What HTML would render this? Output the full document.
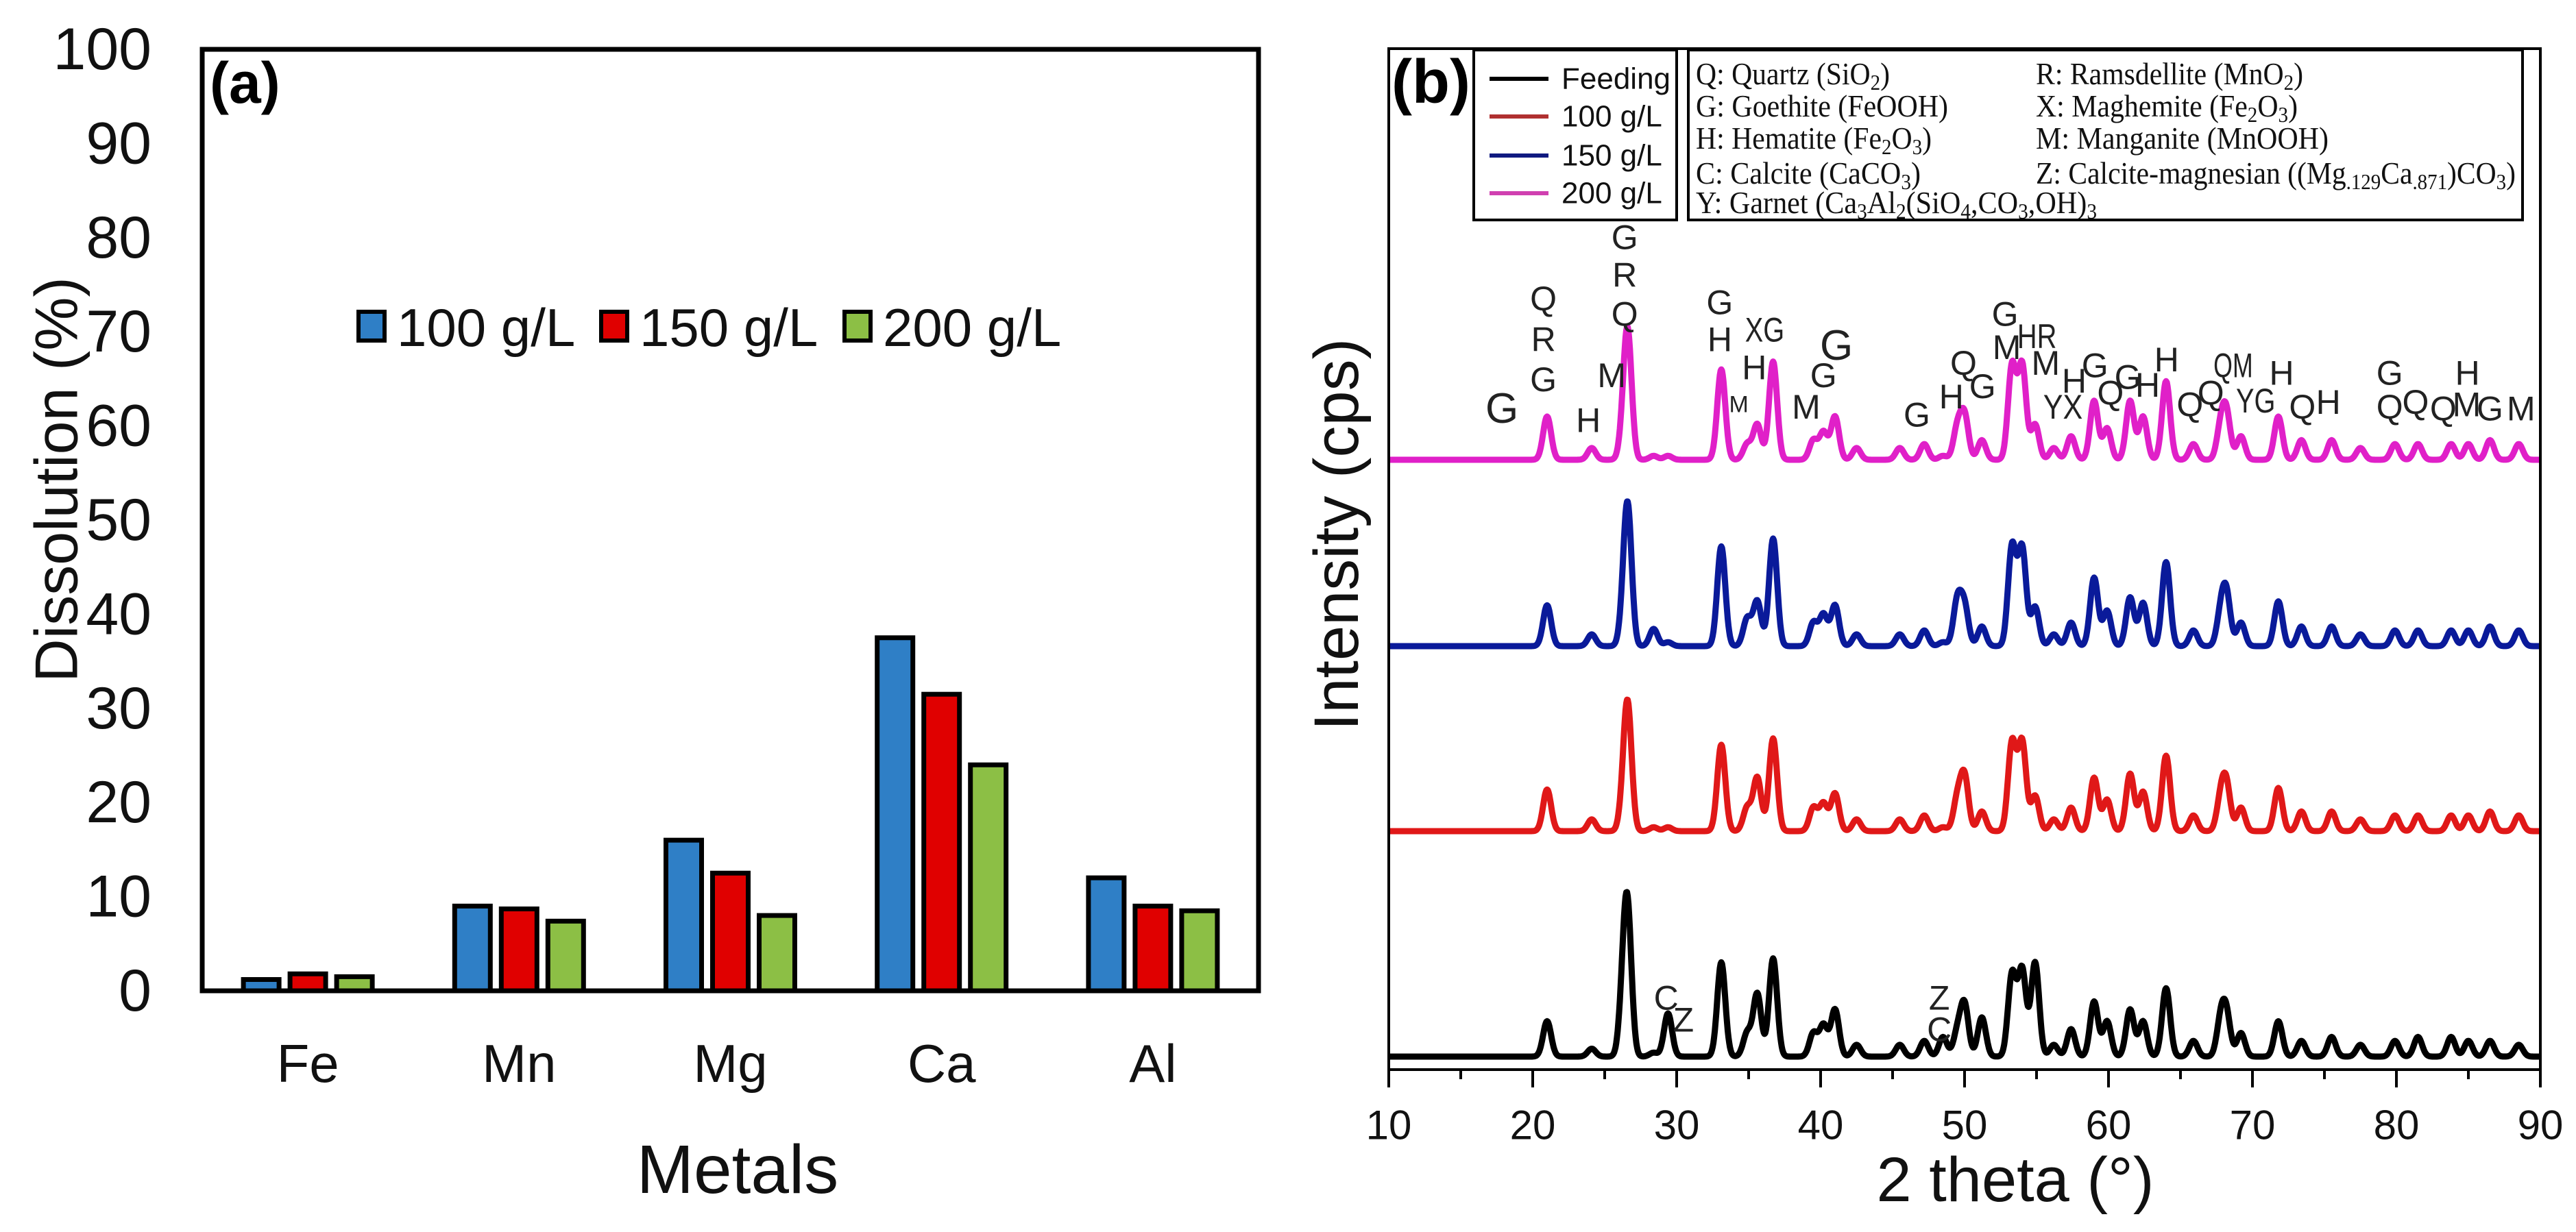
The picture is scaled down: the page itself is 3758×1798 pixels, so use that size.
<!DOCTYPE html>
<html><head><meta charset="utf-8"><style>
html,body{margin:0;padding:0;background:#fff;}
svg{display:block;}
text{font-family:"Liberation Sans",Arial,sans-serif;}
.ser{font-family:"Liberation Serif",serif;}
</style></head><body>
<svg id="fig" width="3758" height="1798" viewBox="0 0 3758 1798" xmlns="http://www.w3.org/2000/svg">
<rect width="3758" height="1798" fill="#fff"/>
<g id="panelA"></g>
<g id="panelB"></g>
</svg>
<script>
// ---------- Panel (a) data ----------
const metals = ["Fe","Mn","Mg","Ca","Al"];
const series100 = [1.2, 9.0, 16.0, 37.5, 12.0];
const series150 = [1.8, 8.7, 12.5, 31.5, 9.0];
const series200 = [1.5, 7.4, 8.0, 24.0, 8.5];
const seriesNames = ["100 g/L","150 g/L","200 g/L"];
const yTicksA = [0,10,20,30,40,50,60,70,80,90,100];

// ---------- Panel (b) data ----------
const peakPos = [21.0,24.1,26.3,26.6,28.4,29.4,33.1,34.9,35.6,36.7,39.5,40.2,41.0,42.5,45.5,47.2,48.5,49.5,50.0,51.2,53.3,54.0,54.9,56.2,57.4,59.0,59.9,61.5,62.4,64.0,65.9,67.8,68.2,69.2,71.8,73.4,75.5,77.5,79.9,81.5,83.8,85.0,86.5,88.5];
const hPink  = [55,15,25,155,5,5,115,20,45,125,25,35,55,15,15,20,5,40,55,25,120,120,45,15,30,75,40,75,55,100,20,40,55,30,55,25,25,15,20,20,20,20,25,20];
const hBlue  = [52,15,25,170,22,5,127,35,57,137,30,40,52,15,15,20,5,57,49,25,127,124,50,15,30,87,45,62,55,107,20,40,62,30,57,25,25,15,20,20,20,20,25,20];
const hRed   = [53,15,25,153,5,5,110,30,68,118,30,35,48,15,15,20,5,40,68,25,113,113,45,15,30,68,40,73,50,96,20,40,55,30,55,25,25,15,20,20,20,20,25,20];
const hBlack = [45,10,70,165,5,55,120,30,80,125,30,40,60,15,15,20,25,30,65,50,105,110,120,15,35,70,45,60,45,87,20,45,50,30,45,20,25,15,20,25,25,20,20,15];
const xTicksB = [10,20,30,40,50,60,70,80,90];
const legendB = ["Feeding","100 g/L","150 g/L","200 g/L"];

const NS = "http://www.w3.org/2000/svg";
function mk(tag, attrs, parent, txt){
  const e = document.createElementNS(NS, tag);
  for (const k in attrs) e.setAttribute(k, attrs[k]);
  if (txt !== undefined) e.textContent = txt;
  parent.appendChild(e);
  return e;
}

// ===== Panel A =====
const A = document.getElementById('panelA');
const aL=295, aT=72, aR=1836, aB=1446;
const yA = v => aB - (v/100)*(aB-aT);
const catW = (aR-aL)/metals.length;
const xA = i => aL + catW*(i+0.5);
const barColors = ["#2f7fc6","#e00000","#8cbf45"];
const allSeries = [series100, series150, series200];

yTicksA.forEach(t=>{
  const el = mk('text',{x:221,y:yA(t),'text-anchor':'end','dominant-baseline':'central','font-size':86,fill:'#111'},A,String(t));
  
  
});
metals.forEach((m,i)=>{
  allSeries.forEach((s,j)=>{
    const cx = xA(i) + (j-1)*68;
    const r = mk('rect',{x:cx-26,y:yA(s[i]),width:52,height:aB-yA(s[i]),fill:barColors[j],stroke:'#000','stroke-width':7},A);
    
    
  });
  const t = mk('text',{x:xA(i),y:1552,'text-anchor':'middle','dominant-baseline':'central','font-size':78,fill:'#111'},A,m);
  
  
});
const frameA = mk('rect',{x:aL,y:aT,width:aR-aL,height:aB-aT,fill:'none',stroke:'#000','stroke-width':7},A);


const labA = mk('text',{x:306,y:150,'font-size':84,'font-weight':'bold',fill:'#000'},A,'(a)');


const ytA = mk('text',{x:0,y:0,transform:'translate(82,700) rotate(-90)','text-anchor':'middle','dominant-baseline':'central','font-size':88,fill:'#111'},A,'Dissolution (%)');


const xtA = mk('text',{x:1076,y:1707,'text-anchor':'middle','dominant-baseline':'central','font-size':100,fill:'#111'},A,'Metals');


const legXs = [519,873,1228];
seriesNames.forEach((n,j)=>{
  const g = mk('g',{},A);
  
  
  mk('rect',{x:legXs[j]+4,y:455,width:38,height:42,fill:barColors[j],stroke:'#000','stroke-width':6},g);
  mk('text',{x:legXs[j]+60,y:478,'dominant-baseline':'central','font-size':78,fill:'#111'},g,n);
});

// ===== Panel B =====
const B = document.getElementById('panelB');
const bL=2026, bR=3706, bT=71, bB=1561;
const xB = v => bL + (v-10)/80*(bR-bL);
const traces = [
  {h:hPink, base:671, col:'#e020c8', name:'trace-200gL'},
  {h:hBlue, base:943, col:'#0a1a9a', name:'trace-150gL'},
  {h:hRed, base:1213, col:'#e01818', name:'trace-100gL'},
  {h:hBlack, base:1542, col:'#000', name:'trace-feeding'}
];
traces.forEach(tr=>{
  let d='';
  for(let k=0;k<=1600;k++){
    const v = 10 + k*0.05;
    let y = 0;
    for(let p=0;p<peakPos.length;p++){
      const dx=(v-peakPos[p])/0.28;
      y += tr.h[p]/0.872*Math.exp(-0.5*dx*dx);
    }
    d += (k?'L':'M')+xB(v).toFixed(1)+' '+(tr.base-y).toFixed(1);
  }
  const path = mk('path',{d:d,fill:'none',stroke:tr.col,'stroke-width':9,'stroke-linejoin':'round'},B);
  
  
});
const frameB = mk('rect',{x:bL,y:bT,width:bR-bL,height:bB-bT,fill:'none',stroke:'#000','stroke-width':4},B);


for(let v=10; v<=90; v+=5){
  const major = v%10===0;
  mk('line',{x1:xB(v),x2:xB(v),y1:bB,y2:bB+(major?26:14),stroke:'#000','stroke-width':4},B);
}
xTicksB.forEach(t=>{
  const el = mk('text',{x:xB(t),y:1642,'text-anchor':'middle','dominant-baseline':'central','font-size':60,fill:'#111'},B,String(t));
  
  
});
const xtB = mk('text',{x:2940,y:1722,'text-anchor':'middle','dominant-baseline':'central','font-size':92,fill:'#111'},B,'2 theta (°)');


const ytB = mk('text',{x:0,y:0,transform:'translate(1950,780) rotate(-90)','text-anchor':'middle','dominant-baseline':'central','font-size':92,fill:'#111'},B,'Intensity (cps)');


const labB = mk('text',{x:2030,y:150,'font-size':90,'font-weight':'bold',fill:'#000'},B,'(b)');



// legend box 1
const lg1 = mk('g',{},B);


mk('rect',{x:2150,y:73,width:296,height:248,fill:'#fff',stroke:'#000','stroke-width':4},lg1);
const legCols = ['#000','#b03030','#101a80','#d040b0'];
const legYs = [115,170,227,282];
legendB.forEach((n,i)=>{
  const g = mk('g',{},lg1);
  
  
  mk('line',{x1:2173,x2:2259,y1:legYs[i],y2:legYs[i],stroke:legCols[i],'stroke-width':6},g);
  mk('text',{x:2278,y:legYs[i],'dominant-baseline':'central','font-size':44,fill:'#111'},g,n);
});
// legend box 2 (phases)
const lg2 = mk('g',{},B);


mk('rect',{x:2463,y:73,width:1217,height:248,fill:'#fff',stroke:'#000','stroke-width':4},lg2);
const phaseRows = [
  [2474,108,283,'Q: Quartz (SiO<tspan baseline-shift="-8" font-size="32">2</tspan>)'],
  [2970,108,390,'R: Ramsdellite (MnO<tspan baseline-shift="-8" font-size="32">2</tspan>)'],
  [2474,155,368,'G: Goethite (FeOOH)'],
  [2970,155,382,'X: Maghemite (Fe<tspan baseline-shift="-8" font-size="32">2</tspan>O<tspan baseline-shift="-8" font-size="32">3</tspan>)'],
  [2474,202,344,'H: Hematite (Fe<tspan baseline-shift="-8" font-size="32">2</tspan>O<tspan baseline-shift="-8" font-size="32">3</tspan>)'],
  [2970,202,427,'M: Manganite (MnOOH)'],
  [2474,253,328,'C: Calcite (CaCO<tspan baseline-shift="-8" font-size="32">3</tspan>)'],
  [2970,253,700,'Z: Calcite-magnesian ((Mg<tspan baseline-shift="-8" font-size="32">.129</tspan>Ca<tspan baseline-shift="-8" font-size="32">.871</tspan>)CO<tspan baseline-shift="-8" font-size="32">3</tspan>)'],
  [2474,296,585,'Y: Garnet (Ca<tspan baseline-shift="-8" font-size="32">3</tspan>Al<tspan baseline-shift="-8" font-size="32">2</tspan>(SiO<tspan baseline-shift="-8" font-size="32">4</tspan>,CO<tspan baseline-shift="-8" font-size="32">3</tspan>,OH)<tspan baseline-shift="-8" font-size="32">3</tspan>'],
];
phaseRows.forEach((r,i)=>{
  const t = mk('text',{x:r[0],y:r[1]+15,'font-size':46,'class':'ser',fill:'#111',textLength:r[2],lengthAdjust:'spacingAndGlyphs'},lg2);
  t.innerHTML = r[3];
  
  
});

// peak annotation letters
const peakLabels = [
 ['G',326,520,62],['Q',374,380],['R',374,432],['G',374,483],['H',426,535],['M',453,478],
 ['G',468,302],['R',468,350],['Q',468,400],['G',578,385],['H',578,432],['M',600,515,34],
 ['XG',630,420],['H',618,468],['M',678,518],['G',698,478],['G',713,440,62],['G',806,528],
 ['H',846,505],['Q',860,462],['G',882,492],['G',908,400],['M',910,442],['HR',945,428],
 ['M',955,462],['YX',975,518],['H',988,485],['G',1012,465],['Q',1030,500],['G',1050,480],
 ['H',1073,490],['H',1095,458],['Q',1122,515],['Q',1146,500],['QM',1172,465],['YG',1198,510],
 ['H',1228,475],['Q',1252,518],['H',1282,512],['G',1353,475],['Q',1353,518],['Q',1383,512],
 ['Q',1415,520],['M',1442,515],['H',1443,475],['G',1469,520],['M',1505,520],
 ['C',516,1270],['Z',536,1298],['Z',832,1270],['C',832,1310]
];
const annG = mk('g',{},B);


peakLabels.forEach(p=>{
  const fs = p[3] || 50;
  const t = mk('text',{x:1780+p[1]/0.793,y:p[2]/0.872,'text-anchor':'middle','dominant-baseline':'central','font-size':fs,fill:'#222'},annG,p[0]);
  if (p[0].length>1){ t.setAttribute('textLength', fs*1.15); t.setAttribute('lengthAdjust','spacingAndGlyphs'); }
});
</script>
</body></html>
